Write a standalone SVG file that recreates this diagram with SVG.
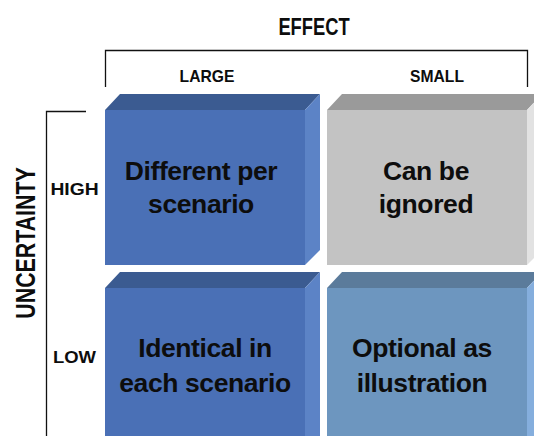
<svg xmlns="http://www.w3.org/2000/svg" width="534" height="436" viewBox="0 0 534 436">
<style>
text{font-family:"Liberation Sans",Arial,sans-serif;font-weight:bold;fill:#0d0d0d;text-anchor:middle}
.hdr{font-size:23.5px}
.sub{font-size:16.5px}
.lbl{font-size:26.5px;letter-spacing:-0.4px}
.ax{fill:none;stroke:#111;stroke-width:1.3}
</style>
<rect width="534" height="436" fill="#fff"/>
<g id="axes">
<text class="hdr" transform="translate(314,35) scale(0.78,1)">EFFECT</text>
<path class="ax" d="M105.5,87 V50.5 H527.5 V87"/>
<text class="sub" transform="translate(207,82) scale(0.95,1)">LARGE</text>
<text class="sub" transform="translate(437,82) scale(0.95,1)">SMALL</text>
<text class="hdr" style="font-size:27px" transform="translate(35,243) rotate(-90) scale(0.79,1)">UNCERTAINTY</text>
<path class="ax" d="M86,111.5 H46.5 V436"/>
<text class="sub" transform="translate(74.5,195) scale(1.17,1)">HIGH</text>
<text class="sub" transform="translate(74.5,363) scale(1.12,1)">LOW</text>
</g>
<g id="box-high-large">
<polygon points="105,110 120,94 320,94 305,110" fill="#3B5B91"/>
<polygon points="305,110 320,94 320,250 305,265" fill="#5C83C6"/>
<rect x="105" y="110" width="200" height="155" fill="#4A70B6"/>
<text class="lbl" x="201" y="180">Different per</text>
<text class="lbl" x="201" y="213">scenario</text>
</g>
<g id="box-high-small">
<polygon points="327,110 342,94 542,94 527,110" fill="#9A9A9A"/>
<polygon points="527,110 542,94 542,250 527,265" fill="#E2E2E2"/>
<rect x="327" y="110" width="200" height="155" fill="#C3C3C3"/>
<text class="lbl" x="426" y="180">Can be</text>
<text class="lbl" x="426" y="213">ignored</text>
</g>
<g id="box-low-large">
<polygon points="105,288 120,272 320,272 305,288" fill="#3B5B91"/>
<polygon points="305,288 320,272 320,436 305,436" fill="#5C83C6"/>
<rect x="105" y="288" width="200" height="148" fill="#4A70B6"/>
<text class="lbl" x="205" y="357">Identical in</text>
<text class="lbl" x="205" y="392">each scenario</text>
</g>
<g id="box-low-small">
<polygon points="327,288 342,272 542,272 527,288" fill="#5B7B9B"/>
<polygon points="527,288 542,272 542,436 527,436" fill="#85AEDD"/>
<rect x="327" y="288" width="200" height="148" fill="#6D96BF"/>
<text class="lbl" x="422" y="357">Optional as</text>
<text class="lbl" x="422" y="392">illustration</text>
</g>
<g id="connectors"/>
</svg>
